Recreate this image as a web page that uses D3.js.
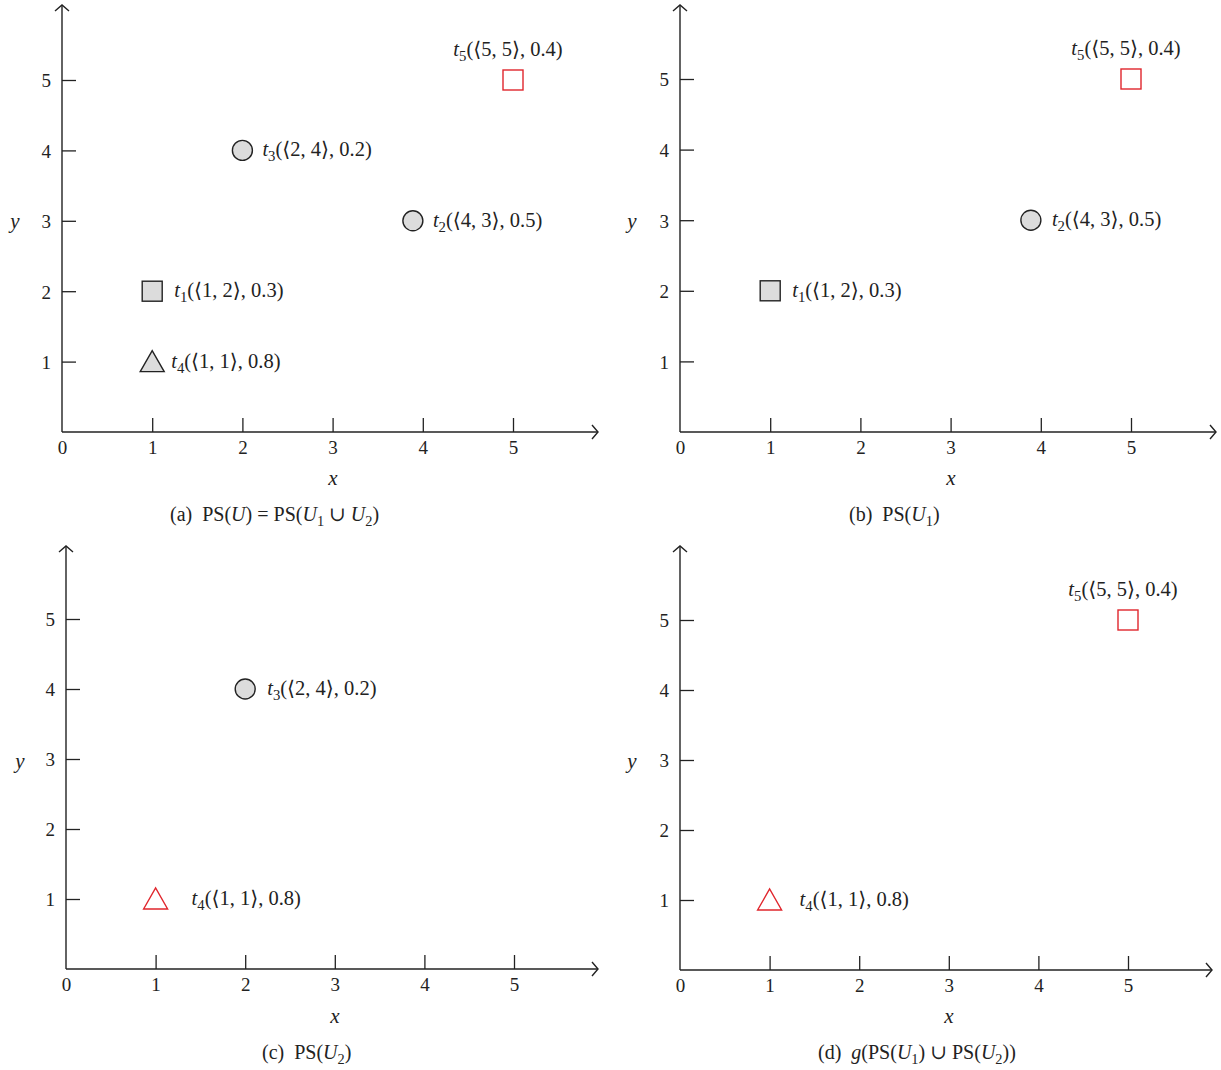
<!DOCTYPE html>
<html>
<head>
<meta charset="utf-8">
<script src="https://cdn.jsdelivr.net/npm/d3@7"></script>
<style>
  body { margin: 0; background: #fff; }
  svg, svg text { font-family: "Liberation Serif", "DejaVu Serif", serif; }
  .tick text { font-size: 19px; fill: #222; }
  .tick line { stroke: #222; stroke-width: 1.3; }
</style>
</head>
<body>
<svg id="chart" width="1221" height="1070"></svg>
<script>
// ---- data ----
var tupleIds = ["t1", "t2", "t3", "t4", "t5"];
var tupleX   = [1, 4, 2, 1, 5];          // attribute values in the label
var tupleY   = [2, 3, 4, 1, 5];
var tupleP   = [0.3, 0.5, 0.2, 0.8, 0.4];
var plotX    = [1, 3.89, 2, 1, 5];       // where the mark is drawn
var plotY    = [2, 3, 4, 1, 5];

var xTicks = [0, 1, 2, 3, 4, 5];
var yTicks = [1, 2, 3, 4, 5];

var panelA = ["t5", "t3", "t2", "t1", "t4"];
var panelB = ["t5", "t2", "t1"];
var panelC = ["t3", "t4"];
var panelD = ["t5", "t4"];

// ---- styles / layout ----
var shapeOf = { t1: "square", t2: "circle", t3: "circle", t4: "triangle", t5: "square" };
var red = "#e0262d", grayFill = "#dcdcdc", ink = "#222";

var panels = [
  { id: "a", pts: panelA, red: ["t5"], ox: 62, oy: 432, x5: 513, y5: 80, xEnd: 598, yEnd: 5,
    yLab: [15, 228], xLab: [333, 485], capX: 170, capY: 521,
    dx: { t1: 22, t2: 20, t3: 20, t4: 19 } },
  { id: "b", pts: panelB, red: ["t5"], ox: 680, oy: 432, x5: 1131, y5: 79, xEnd: 1216, yEnd: 5,
    yLab: [632, 228], xLab: [951, 485], capX: 849, capY: 521,
    dx: { t1: 22, t2: 21 } },
  { id: "c", pts: panelC, red: ["t4"], ox: 66, oy: 969, x5: 514, y5: 619, xEnd: 598, yEnd: 546,
    yLab: [20, 768], xLab: [335, 1023], capX: 262, capY: 1059,
    dx: { t3: 22, t4: 36 } },
  { id: "d", pts: panelD, red: ["t5", "t4"], ox: 680, oy: 970, x5: 1128, y5: 620, xEnd: 1212, yEnd: 546,
    yLab: [632, 768], xLab: [949, 1023], capX: 818, capY: 1059,
    dx: { t4: 30 } }
];

var svg = d3.select("#chart");

// caption pieces: [text, italic, subscript]
var nb = "\u00A0";
var captions = {
  a: [["(a)" + nb + nb + "PS(", 0, 0], ["U", 1, 0], [") = PS(", 0, 0], ["U", 1, 0], ["1", 0, 1], [nb + "\u222A" + nb, 0, 0], ["U", 1, 0], ["2", 0, 1], [")", 0, 0]],
  b: [["(b)" + nb + nb + "PS(", 0, 0], ["U", 1, 0], ["1", 0, 1], [")", 0, 0]],
  c: [["(c)" + nb + nb + "PS(", 0, 0], ["U", 1, 0], ["2", 0, 1], [")", 0, 0]],
  d: [["(d)" + nb + nb, 0, 0], ["g", 1, 0], ["(PS(", 0, 0], ["U", 1, 0], ["1", 0, 1], [")" + nb + "\u222A" + nb + "PS(", 0, 0], ["U", 1, 0], ["2", 0, 1], ["))", 0, 0]]
};

function writePieces(text, pieces) {
  var lowered = false;
  pieces.forEach(function (p) {
    var ts = text.append("tspan").text(p[0]);
    if (p[1]) ts.attr("font-style", "italic");
    if (p[2] && !lowered) { ts.attr("dy", 5).attr("font-size", "0.72em"); lowered = true; }
    else if (!p[2] && lowered) { ts.attr("dy", -5); lowered = false; }
  });
}

panels.forEach(function (pn) {
  var x = d3.scaleLinear().domain([0, 5]).range([pn.ox, pn.x5]);
  var y = d3.scaleLinear().domain([0, 5]).range([pn.oy, pn.y5]);
  var xMax = x.invert(pn.xEnd), yMax = y.invert(pn.yEnd);
  var g = svg.append("g");

  // axes (ticks point inward)
  var gx = g.append("g").attr("transform", "translate(0," + pn.oy + ")")
    .call(d3.axisBottom(x).tickValues(xTicks).tickFormat(d3.format("d"))
      .tickSize(-14).tickSizeOuter(0).tickPadding(9));
  gx.attr("font-family", null).attr("font-size", null);
  gx.select(".domain").remove();
  gx.selectAll(".tick").filter(function (d) { return d === 0; }).select("line").remove();

  var gy = g.append("g").attr("transform", "translate(" + pn.ox + ",0)")
    .call(d3.axisLeft(y).tickValues(yTicks).tickFormat(d3.format("d"))
      .tickSize(-14).tickSizeOuter(0).tickPadding(11));
  gy.attr("font-family", null).attr("font-size", null);
  gy.select(".domain").remove();
  gy.selectAll(".tick text").attr("dy", "0.36em");

  // axis lines with open arrow heads
  g.append("line").attr("x1", x(0)).attr("y1", y(0)).attr("x2", x(xMax)).attr("y2", y(0))
    .attr("stroke", ink).attr("stroke-width", 1.4);
  g.append("line").attr("x1", x(0)).attr("y1", y(0)).attr("x2", x(0)).attr("y2", y(yMax))
    .attr("stroke", ink).attr("stroke-width", 1.4);
  g.append("path")
    .attr("d", "M" + (x(xMax) - 6) + "," + (y(0) - 7) + "L" + x(xMax) + "," + y(0) + "L" + (x(xMax) - 6) + "," + (y(0) + 7))
    .attr("fill", "none").attr("stroke", ink).attr("stroke-width", 1.4);
  g.append("path")
    .attr("d", "M" + (x(0) - 7) + "," + (y(yMax) + 6) + "L" + x(0) + "," + y(yMax) + "L" + (x(0) + 7) + "," + (y(yMax) + 6))
    .attr("fill", "none").attr("stroke", ink).attr("stroke-width", 1.4);

  // axis titles
  g.append("text").attr("x", pn.xLab[0]).attr("y", pn.xLab[1]).attr("text-anchor", "middle")
    .attr("font-style", "italic").attr("font-size", 21).attr("fill", ink).text("x");
  g.append("text").attr("x", pn.yLab[0]).attr("y", pn.yLab[1]).attr("text-anchor", "middle")
    .attr("font-style", "italic").attr("font-size", 21).attr("fill", ink).text("y");

  // points
  pn.pts.forEach(function (id) {
    var i = tupleIds.indexOf(id);
    var cx = x(plotX[i]), cy = y(plotY[i]);
    var isRed = pn.red.indexOf(id) >= 0;
    var stroke = isRed ? red : ink, fill = isRed ? "#fff" : grayFill;
    var shape = shapeOf[id];
    if (shape === "circle") {
      g.append("circle").attr("cx", cx).attr("cy", cy).attr("r", 10)
        .attr("fill", fill).attr("stroke", stroke).attr("stroke-width", 1.4);
    } else if (shape === "square") {
      g.append("rect").attr("x", cx - 10).attr("y", cy - 10).attr("width", 20).attr("height", 20)
        .attr("fill", fill).attr("stroke", stroke).attr("stroke-width", 1.4);
    } else {
      g.append("path")
        .attr("d", "M" + (cx - 12) + "," + (cy + 10) + "L" + cx + "," + (cy - 11) + "L" + (cx + 12) + "," + (cy + 10) + "Z")
        .attr("fill", fill).attr("stroke", stroke).attr("stroke-width", 1.4);
    }

    var label = g.append("text").attr("font-size", 20.5).attr("fill", ink);
    if (id === "t5") {
      label.attr("x", cx - 5).attr("y", cy - 24).attr("text-anchor", "middle");
    } else {
      label.attr("x", cx + pn.dx[id]).attr("y", cy + 6);
    }
    writePieces(label, [
      ["t", 1, 0], [id.slice(1), 0, 1],
      ["(\u27E8" + tupleX[i] + ", " + tupleY[i] + "\u27E9, " + tupleP[i] + ")", 0, 0]
    ]);
  });

  // caption
  var cap = g.append("text").attr("x", pn.capX).attr("y", pn.capY).attr("font-size", 20).attr("fill", ink);
  writePieces(cap, captions[pn.id]);
});
</script>
</body>
</html>
